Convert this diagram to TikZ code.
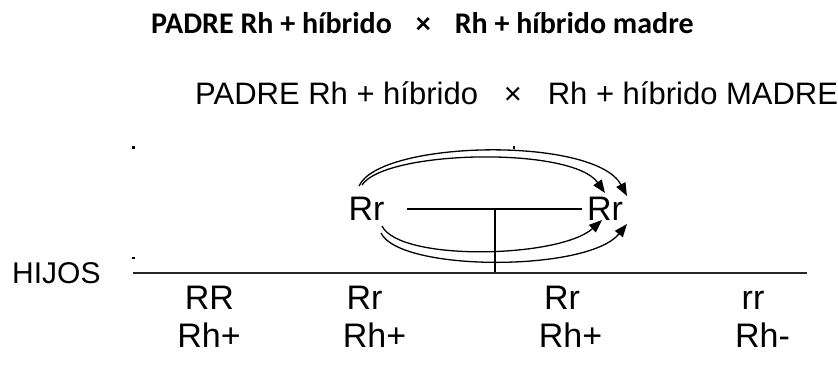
\documentclass[tikz,border=0pt]{standalone}
\usepackage{fontspec}
\setmainfont{Liberation Sans}
\newfontfamily\titlefont{Carlito}
\usetikzlibrary{arrows.meta}
\begin{document}
\begin{tikzpicture}[x=1pt,y=-1pt,
  lbl/.style={inner sep=0pt, anchor=base, font=\fontsize{34}{40}\selectfont},
  ttl/.style={inner sep=0pt, anchor=base west, font=\fontsize{31}{36}\selectfont},
  ttlone/.style={inner sep=0pt, anchor=base west, font=\titlefont\bfseries\fontsize{30}{34}\selectfont},
  dotmark/.style={fill=black, rectangle, inner sep=0pt, minimum size=2.6pt},
  rule/.style={line width=1.3pt, draw=black!85},
  arc/.style={line width=1.3pt, -{Triangle[length=13pt,width=10pt]}}]
\useasboundingbox (0,0) rectangle (838,365);

% titles
\node[ttlone] (t1) at (151,33) {PADRE Rh + híbrido\hspace{24pt}×\hspace{24pt}Rh + híbrido madre};
\node[ttl] (t2) at (195,104) {PADRE Rh + híbrido\ \ \ ×\ \ \ Rh + híbrido MADRE};

% stray dots
\node[dotmark] (d1) at (133.5,147.5) {};
\node[dotmark] (d2) at (514,147.5) {};
\node[dotmark] (d3) at (133.5,258) {};

% parents
\node[lbl] (L) at (366.5,220) {Rr};
\node[lbl] (R) at (605,220) {Rr};

% cross lines
\coordinate (m1) at (407,209);
\coordinate (m2) at (582,209);
\coordinate (mc) at (495,209);
\coordinate (h1) at (133,273);
\coordinate (h2) at (807,273);
\coordinate (hc) at (495,273);
\draw[line width=1.1pt] (m1) -- (m2);
\draw[line width=1.1pt] (mc) -- (hc);
\draw[rule] (h1) -- (h2);

% HIJOS
\node[inner sep=0pt, anchor=base west, font=\fontsize{30}{36}\selectfont] (hijos) at (12,283) {HIJOS};

% offspring
\node[lbl] (g1) at (209.5,309) {RR};
\node[lbl] (g2) at (364.5,309) {Rr};
\node[lbl] (g3) at (562,309) {Rr};
\node[lbl] (g4) at (753,309) {rr};
\node[lbl] (p1) at (209,347) {Rh+};
\node[lbl] (p2) at (374.5,347) {Rh+};
\node[lbl] (p3) at (570.5,347) {Rh+};
\node[lbl] (p4) at (762.5,347) {Rh-};

% arcs
\coordinate (uo1) at (359,186);
\coordinate (ui1) at (362,185);
\coordinate (uo2) at (627,196);
\coordinate (ui2) at (605,193);
\coordinate (li1) at (382,226);
\coordinate (lo1) at (381,233);
\coordinate (li2) at (602,220);
\coordinate (lo2) at (627,224);
\draw[arc] (uo1) .. controls (380,140) and (595,136) .. (uo2);
\draw[arc] (ui1) .. controls (385,150) and (572,146) .. (ui2);
\draw[arc] (li1) .. controls (400,262) and (560,258) .. (li2);
\draw[arc] (lo1) .. controls (400,272) and (588,272) .. (lo2);
\end{tikzpicture}
\end{document}
